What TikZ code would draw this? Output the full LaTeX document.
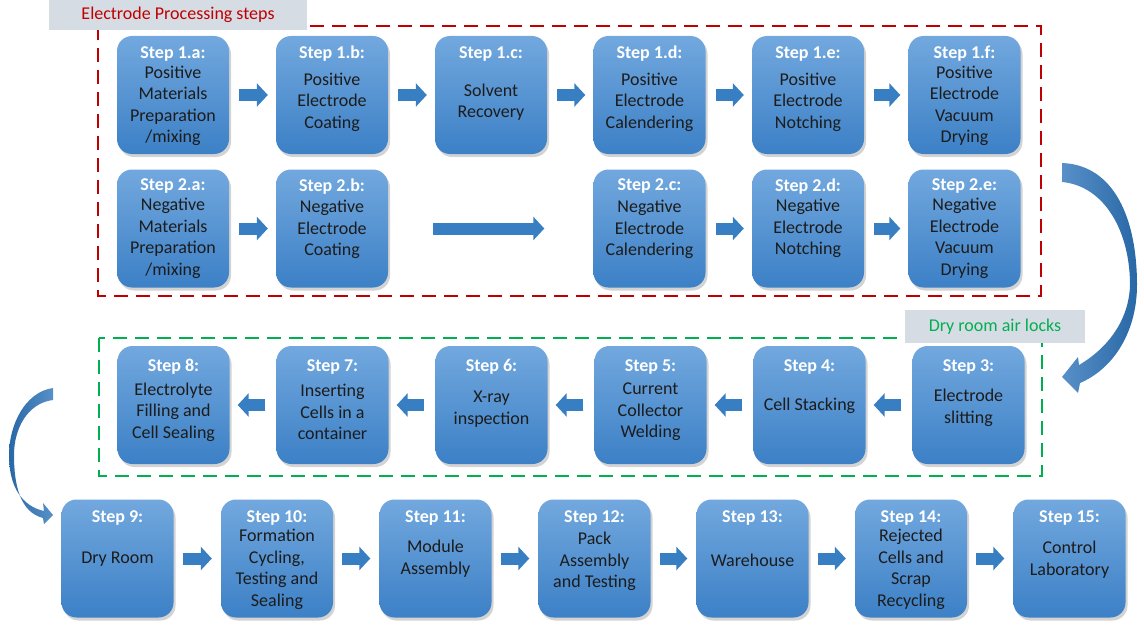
\documentclass[tikz,border=0pt]{standalone}
\usepackage{fontspec}
\setmainfont{Carlito}
\definecolor{BoxTop}{RGB}{114,168,222}
\definecolor{BoxBottom}{RGB}{60,128,198}
\definecolor{ArrowColor}{RGB}{56,126,194}
\definecolor{CurveLight}{RGB}{88,144,200}
\definecolor{CurveDark}{RGB}{40,104,166}
\definecolor{LabelFill}{RGB}{214,220,228}
\definecolor{FrameRed}{RGB}{192,0,0}
\definecolor{FrameGreen}{RGB}{0,176,80}
\definecolor{BodyText}{RGB}{28,28,28}
\usepackage{tikz}
\usetikzlibrary{positioning, arrows.meta, shadows, calc}
\tikzstyle{stepbox} = [rectangle, rounded corners=15pt, minimum width=112pt, minimum height=118pt, top color=BoxTop, bottom color=BoxBottom, drop shadow={shadow xshift=2pt, shadow yshift=-3pt, opacity=0.35}]
\tikzstyle{steptitle} = [text=white, font=\fontsize{18}{21.5}\selectfont\bfseries]
\tikzstyle{stepbody} = [text=BodyText, align=center, inner sep=0pt, font=\fontsize{18}{21.5}\selectfont]
\tikzstyle{blockarrow} = [line width=12pt, ArrowColor, -{Triangle[length=11pt, width=23pt]}]
\tikzstyle{framelabel} = [fill=LabelFill, inner sep=0pt, font=\fontsize{18}{21.5}\selectfont]
\tikzstyle{frame} = [line width=2pt, dash pattern=on 14pt off 8pt]

\begin{document}
\begin{tikzpicture}[x=1pt, y=-1pt]
            \useasboundingbox (0,0) rectangle (1144,626);

            % Dashed frames
            \draw[frame, FrameRed] (98,26) rectangle (1041,296);
            \draw[frame, FrameGreen] (99,338) rectangle (1042,476);
            \node[framelabel, minimum width=258pt, minimum height=30pt, text=FrameRed] (redlabel) at (178,15) {Electrode Processing steps};
            \node[framelabel, minimum width=180pt, minimum height=33pt, text=FrameGreen] (greenlabel) at (995,326.5) {Dry room air locks};

            % Positive electrode
            \node[stepbox] (s1a) at (173,95) {};
            \node[stepbox] (s1b) at (332,95) {};
            \node[stepbox] (s1c) at (491,95) {};
            \node[stepbox] (s1d) at (649.5,95) {};
            \node[stepbox] (s1e) at (808,95) {};
            \node[stepbox] (s1f) at (964.5,95) {};
            \node[steptitle] (t1a) at ([yshift=-18pt]s1a.north) {Step 1.a:};
            \node[steptitle] (t1b) at ([yshift=-18pt]s1b.north) {Step 1.b:};
            \node[steptitle] (t1c) at ([yshift=-18pt]s1c.north) {Step 1.c:};
            \node[steptitle] (t1d) at ([yshift=-18pt]s1d.north) {Step 1.d:};
            \node[steptitle] (t1e) at ([yshift=-18pt]s1e.north) {Step 1.e:};
            \node[steptitle] (t1f) at ([yshift=-18pt]s1f.north) {Step 1.f:};
            \node[stepbody] (b1a) at ([yshift=-11pt]s1a.center) {Positive\\Materials\\Preparation\\/mixing};
            \node[stepbody] (b1b) at ([yshift=-7pt]s1b.center) {Positive\\Electrode\\Coating};
            \node[stepbody] (b1c) at ([yshift=-7pt]s1c.center) {Solvent\\Recovery};
            \node[stepbody] (b1d) at ([yshift=-7pt]s1d.center) {Positive\\Electrode\\Calendering};
            \node[stepbody] (b1e) at ([yshift=-7pt]s1e.center) {Positive\\Electrode\\Notching};
            \node[stepbody] (b1f) at ([yshift=-11pt]s1f.center) {Positive\\Electrode\\Vacuum\\Drying};

            % Negative electrode
            \node[stepbox] (s2a) at (173,228.5) {};
            \node[stepbox] (s2b) at (332,228.5) {};
            \node[stepbox] (s2c) at (649.5,228.5) {};
            \node[stepbox] (s2d) at (808,228.5) {};
            \node[stepbox] (s2e) at (964.5,228.5) {};
            \node[steptitle] (t2a) at ([yshift=-17pt]s2a.north) {Step 2.a:};
            \node[steptitle] (t2b) at ([yshift=-17pt]s2b.north) {Step 2.b:};
            \node[steptitle] (t2c) at ([yshift=-17pt]s2c.north) {Step 2.c:};
            \node[steptitle] (t2d) at ([yshift=-17pt]s2d.north) {Step 2.d:};
            \node[steptitle] (t2e) at ([yshift=-17pt]s2e.north) {Step 2.e:};
            \node[stepbody] (b2a) at ([yshift=-10pt]s2a.center) {Negative\\Materials\\Preparation\\/mixing};
            \node[stepbody] (b2b) at ([yshift=-1pt]s2b.center) {Negative\\Electrode\\Coating};
            \node[stepbody] (b2c) at ([yshift=-1pt]s2c.center) {Negative\\Electrode\\Calendering};
            \node[stepbody] (b2d) at ([yshift=0pt]s2d.center) {Negative\\Electrode\\Notching};
            \node[stepbody] (b2e) at ([yshift=-10pt]s2e.center) {Negative\\Electrode\\Vacuum\\Drying};

            % Dry room air locks
            \node[stepbox] (s3) at (968.5,405) {};
            \node[stepbox] (s4) at (809.5,405) {};
            \node[stepbox] (s5) at (650.5,405) {};
            \node[stepbox] (s6) at (491.5,405) {};
            \node[stepbox] (s7) at (332.5,405) {};
            \node[stepbox] (s8) at (173.5,405) {};
            \node[steptitle] (t3) at ([yshift=-21pt]s3.north) {Step 3:};
            \node[steptitle] (t4) at ([yshift=-21pt]s4.north) {Step 4:};
            \node[steptitle] (t5) at ([yshift=-21pt]s5.north) {Step 5:};
            \node[steptitle] (t6) at ([yshift=-21pt]s6.north) {Step 6:};
            \node[steptitle] (t7) at ([yshift=-21pt]s7.north) {Step 7:};
            \node[steptitle] (t8) at ([yshift=-21pt]s8.north) {Step 8:};
            \node[stepbody] (b3) at ([yshift=-3pt]s3.center) {Electrode\\slitting};
            \node[stepbody] (b4) at ([yshift=-1pt]s4.center) {Cell Stacking};
            \node[stepbody] (b5) at ([yshift=-7pt]s5.center) {Current\\Collector\\Welding};
            \node[stepbody] (b6) at ([yshift=-4pt]s6.center) {X-ray\\inspection};
            \node[stepbody] (b7) at ([yshift=-7pt]s7.center) {Inserting\\Cells in a\\container};
            \node[stepbody] (b8) at ([yshift=-7pt]s8.center) {Electrolyte\\Filling and\\Cell Sealing};

            % Assembly and after
            \node[stepbox] (s9) at (117.5,558.5) {};
            \node[stepbox] (s10) at (277,558.5) {};
            \node[stepbox] (s11) at (435.5,558.5) {};
            \node[stepbox] (s12) at (594.5,558.5) {};
            \node[stepbox] (s13) at (752.5,558.5) {};
            \node[stepbox] (s14) at (911,558.5) {};
            \node[stepbox] (s15) at (1069.5,558.5) {};
            \node[steptitle] (t9) at ([yshift=-19pt]s9.north) {Step 9:};
            \node[steptitle] (t10) at ([yshift=-19pt]s10.north) {Step 10:};
            \node[steptitle] (t11) at ([yshift=-19pt]s11.north) {Step 11:};
            \node[steptitle] (t12) at ([yshift=-19pt]s12.north) {Step 12:};
            \node[steptitle] (t13) at ([yshift=-19pt]s13.north) {Step 13:};
            \node[steptitle] (t14) at ([yshift=-19pt]s14.north) {Step 14:};
            \node[steptitle] (t15) at ([yshift=-19pt]s15.north) {Step 15:};
            \node[stepbody] (b9) at ([yshift=-1pt]s9.center) {Dry Room};
            \node[stepbody] (b10) at ([yshift=-11pt]s10.center) {Formation\\Cycling,\\Testing and\\Sealing};
            \node[stepbody] (b11) at ([yshift=0pt]s11.center) {Module\\Assembly};
            \node[stepbody] (b12) at ([yshift=-3pt]s12.center) {Pack\\Assembly\\and Testing};
            \node[stepbody] (b13) at ([yshift=-2pt]s13.center) {Warehouse};
            \node[stepbody] (b14) at ([yshift=-11pt]s14.center) {Rejected\\Cells and\\Scrap\\Recycling};
            \node[stepbody] (b15) at ([yshift=-1pt]s15.center) {Control\\Laboratory};

            % Connections
            \draw[blockarrow] ([xshift=10pt]s1a.east) -- ([xshift=-8pt]s1b.west);
            \draw[blockarrow] ([xshift=10pt]s1b.east) -- ([xshift=-8pt]s1c.west);
            \draw[blockarrow] ([xshift=10pt]s1c.east) -- ([xshift=-8pt]s1d.west);
            \draw[blockarrow] ([xshift=10pt]s1d.east) -- ([xshift=-8pt]s1e.west);
            \draw[blockarrow] ([xshift=10pt]s1e.east) -- ([xshift=-8pt]s1f.west);
            \draw[blockarrow] ([xshift=10pt]s2a.east) -- ([xshift=-8pt]s2b.west);
            \draw[blockarrow] ([xshift=45pt]s2b.east) -- ([xshift=-49pt]s2c.west);
            \draw[blockarrow] ([xshift=10pt]s2c.east) -- ([xshift=-8pt]s2d.west);
            \draw[blockarrow] ([xshift=10pt]s2d.east) -- ([xshift=-8pt]s2e.west);
            \draw[blockarrow] ([xshift=-11pt]s3.west) -- ([xshift=8pt]s4.east);
            \draw[blockarrow] ([xshift=-11pt]s4.west) -- ([xshift=8pt]s5.east);
            \draw[blockarrow] ([xshift=-11pt]s5.west) -- ([xshift=8pt]s6.east);
            \draw[blockarrow] ([xshift=-11pt]s6.west) -- ([xshift=8pt]s7.east);
            \draw[blockarrow] ([xshift=-11pt]s7.west) -- ([xshift=8pt]s8.east);
            \draw[blockarrow] ([xshift=9pt]s9.east) -- ([xshift=-9pt]s10.west);
            \draw[blockarrow] ([xshift=9pt]s10.east) -- ([xshift=-9pt]s11.west);
            \draw[blockarrow] ([xshift=9pt]s11.east) -- ([xshift=-9pt]s12.west);
            \draw[blockarrow] ([xshift=9pt]s12.east) -- ([xshift=-9pt]s13.west);
            \draw[blockarrow] ([xshift=9pt]s13.east) -- ([xshift=-9pt]s14.west);
            \draw[blockarrow] ([xshift=9pt]s14.east) -- ([xshift=-9pt]s15.west);

            % Curved arrows between rows
            \shade[left color=CurveLight, right color=CurveDark] (1062,163) .. controls (1115,165) and (1137,220) .. (1137,285)
                .. controls (1137,330) and (1115,368) .. (1080,383) -- (1078,393) -- (1062,377) -- (1078,357) -- (1079,365)
                .. controls (1108,348) and (1129,320) .. (1130,285) .. controls (1130,232) and (1105,186) .. (1062,182) -- cycle;
            \shade[left color=CurveDark, right color=CurveLight] (53,388) .. controls (25,392) and (9,425) .. (9,455)
                .. controls (9,487) and (22,506) .. (44,511) -- (43,503) -- (53,515) -- (44,524) -- (43,518)
                .. controls (20,512) and (14,485) .. (14,455) .. controls (14,428) and (28,403) .. (53,400) -- cycle;
        \end{tikzpicture}
\end{document}
